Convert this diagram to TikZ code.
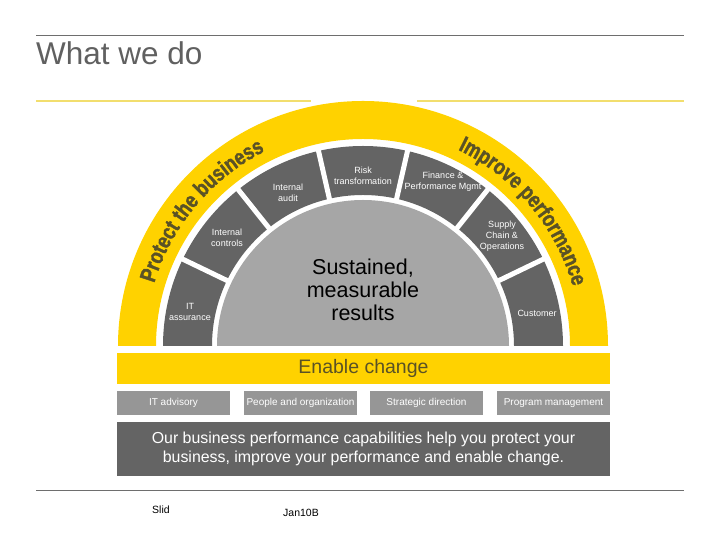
\documentclass[tikz,border=0pt]{standalone}
\usepackage{fontspec}
\setmainfont{Liberation Sans}
\newfontfamily\myarcfam{Liberation Sans Bold}[FakeStretch=0.8,FakeBold=1.5]
\usetikzlibrary{decorations.text}
\definecolor{eyyellow}{RGB}{255,210,0}
\definecolor{paleyellow}{RGB}{242,222,110}
\definecolor{darkseg}{RGB}{100,100,100}
\definecolor{lightdisk}{RGB}{166,166,166}
\definecolor{midbox}{RGB}{150,150,150}
\definecolor{titlegray}{RGB}{96,96,96}
\definecolor{rulegray}{RGB}{110,110,110}
\definecolor{olivetext}{RGB}{90,82,38}
\newcommand\myarcfont{\myarcfam\fontsize{22.5}{22.5}\selectfont\color{olivetext}}
\begin{document}
\begin{tikzpicture}[x=1pt,y=1pt,
  seglabel/.style={text=white, font=\fontsize{9}{11}\selectfont, align=center, inner sep=0pt},
  boxlabel/.style={fill=midbox, text=white, font=\fontsize{10}{12}\selectfont, inner sep=0pt, minimum width=113pt, minimum height=24pt},
  rulestyle/.style={draw=rulegray, line width=1pt},
  yrule/.style={draw=paleyellow, line width=2.2pt}]
\useasboundingbox (0,0) rectangle (720,540);
% rules
\coordinate (tl) at (36,504); \coordinate (tr) at (684,504);
\draw[rulestyle] (tl) -- (tr);
\coordinate (bl) at (36,49); \coordinate (br) at (684,49);
\draw[rulestyle] (bl) -- (br);
\coordinate (yl1) at (36,439); \coordinate (yl2) at (311,439);
\coordinate (yr1) at (417,439); \coordinate (yr2) at (684,439);
\draw[yrule] (yl1) -- (yl2);
\draw[yrule] (yr1) -- (yr2);
% title
\node[anchor=base west, inner sep=0pt, text=titlegray, font=\fontsize{31.5}{32}\selectfont] (title) at (36,475) {What we do};
% semicircle
\begin{scope}[shift={(363,194)}]
  \fill[eyyellow] (0:245pt) arc[start angle=0, end angle=180, radius=245pt] -- (180:207pt) arc[start angle=180, end angle=0, radius=207pt] -- cycle;
  \fill[darkseg] (0:200pt) arc[start angle=0, end angle=180, radius=200pt] -- (180:151pt) arc[start angle=180, end angle=0, radius=151pt] -- cycle;
  \fill[lightdisk] (0:146pt) arc[start angle=0, end angle=180, radius=146pt] -- cycle;
  \foreach \k in {1,...,6} {
    \draw[white, line width=5pt] ({\k*180/7}:148pt) -- ({\k*180/7}:203pt);
  }
  \path[decorate, decoration={text along path, text align=center,
     text={|\myarcfont|Protect the business}}]
     (178:218pt) arc[start angle=178, end angle=102, radius=218pt];
  \path[decorate, decoration={text along path, text align=center,
     text={|\myarcfont|Improve performance}}]
     (78:218pt) arc[start angle=78, end angle=2, radius=218pt];
\end{scope}
% segment labels
\node[seglabel] (s1) at (190,228) {IT\\assurance};
\node[seglabel] (s2) at (227,302) {Internal\\controls};
\node[seglabel] (s3) at (288,347) {Internal\\audit};
\node[seglabel] (s4) at (363,364) {Risk\\transformation};
\node[seglabel] (s5) at (443,358) {Finance \&\\Performance Mgmt};
\node[seglabel] (s6) at (502,304) {Supply\\Chain \&\\Operations};
\node[seglabel] (s7) at (537,227) {Customer};
\node[align=center, inner sep=0pt, font=\fontsize{21.5}{23}\selectfont] (core) at (363,250) {Sustained,\\measurable\\results};
% bottom blocks
\node[fill=eyyellow, minimum width=493pt, minimum height=31pt, inner sep=0pt, text=olivetext, font=\fontsize{19.5}{20}\selectfont] (enable) at (363.5,171.5) {Enable change};
\node[boxlabel] (b1) at (173.5,137) {IT advisory};
\node[boxlabel] (b2) at (300.5,137) {People and organization};
\node[boxlabel] (b3) at (426.5,137) {Strategic direction};
\node[boxlabel] (b4) at (553.5,137) {Program management};
\node[fill=darkseg, minimum width=493pt, minimum height=54pt, inner sep=0pt, text=white, align=center, font=\fontsize{15.9}{19}\selectfont] (summary) at (363.5,91) {Our business performance capabilities help you protect your\\business, improve your performance and enable change.};
% footer
\node[anchor=west, inner sep=0pt, font=\fontsize{10.5}{12}\selectfont] (slid) at (152,30) {Slid};
\node[anchor=west, inner sep=0pt, font=\fontsize{10.5}{12}\selectfont] (date) at (283,27) {Jan10B};
\end{tikzpicture}
\end{document}
